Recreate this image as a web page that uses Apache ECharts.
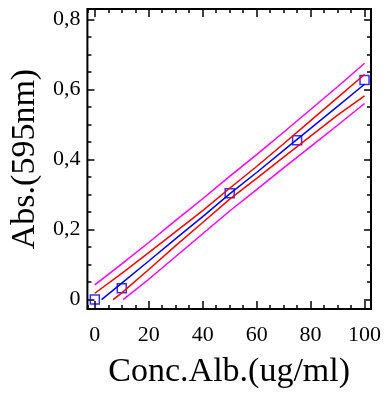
<!DOCTYPE html>
<html>
<head>
<meta charset="utf-8">
<script src="https://cdn.jsdelivr.net/npm/echarts@6/dist/echarts.min.js"></script>
<style>html,body{margin:0;padding:0;background:#fff}#c{width:389px;height:394px}</style>
</head>
<body>
<div id="c"></div>
<script>
// Measured points
const pointX = [0, 10, 50, 75, 100];
const pointY = [0.0, 0.032, 0.304, 0.455, 0.627];
// Linear fit (blue)
const fitX = [2.5, 10, 20, 30, 40, 50, 60, 70, 80, 90, 100];
const fitY = [0.0, 0.047, 0.110, 0.174, 0.237, 0.302, 0.363, 0.426, 0.489, 0.552, 0.615];
// Confidence band (red)
const confUpX = [0, 10, 20, 30, 40, 50, 60, 70, 80, 90, 100];
const confUpY = [0.018, 0.075, 0.134, 0.194, 0.254, 0.318, 0.380, 0.445, 0.511, 0.577, 0.643];
const confLoX = [6.8, 10, 20, 30, 40, 50, 60, 70, 80, 90, 100];
const confLoY = [0.0, 0.019, 0.086, 0.154, 0.220, 0.287, 0.346, 0.407, 0.467, 0.527, 0.582];
// Prediction band (magenta)
const predUpX = [0, 10, 20, 30, 40, 50, 60, 70, 80, 90, 100];
const predUpY = [0.042, 0.102, 0.163, 0.226, 0.288, 0.352, 0.414, 0.478, 0.543, 0.608, 0.675];
const predLoX = [10.5, 20, 30, 40, 50, 60, 70, 80, 90, 100];
const predLoY = [0.0, 0.058, 0.123, 0.188, 0.253, 0.314, 0.376, 0.437, 0.498, 0.560];
// Ticks
const xMajor = [0, 20, 40, 60, 80, 100];
const xTickLabels = ['0', '20', '40', '60', '80', '100'];
const xMinor = [-2.5,5,10,15,25,30,35,45,50,55,65,70,75,85,90,95];
const yMajor = [0, 0.2, 0.4, 0.6, 0.8];
const yTickLabels = ['0', '0,2', '0,4', '0,6', '0,8'];
const yMinor = [0.05,0.1,0.15,0.25,0.3,0.35,0.45,0.5,0.55,0.65,0.7,0.75];
const xTitle = 'Conc.Alb.(ug/ml)';
const yTitle = 'Abs.(595nm)';

const X_MIN = -2.75, X_MAX = 102.4, Y_MIN = -0.027, Y_MAX = 0.83;
const FONT = "'Liberation Serif', 'Times New Roman', serif";

function zip(a, b) { return a.map((v, i) => [v, b[i]]); }
function labelFor(vals, labels) {
  return function (v) {
    for (let i = 0; i < vals.length; i++) if (Math.abs(vals[i] - v) < 1e-6) return labels[i];
    return '';
  };
}
function xAx(pos, major, withLabel) {
  return {
    type: 'value', position: pos, min: X_MIN, max: X_MAX,
    axisLine: { show: false, onZero: false },
    splitLine: { show: false },
    axisTick: { show: true, inside: true, length: major ? 8 : 4, customValues: major ? xMajor : xMinor,
      lineStyle: { color: '#000', width: 1.5 } },
    axisLabel: withLabel ? { show: true, customValues: xMajor, formatter: labelFor(xMajor, xTickLabels),
      margin: 15, fontSize: 22, fontFamily: FONT, color: '#000' } : { show: false },
    name: withLabel ? xTitle : '', nameLocation: 'middle', nameGap: 46,
    nameTextStyle: { fontSize: 34, fontFamily: FONT, color: '#000' }
  };
}
function yAx(pos, major, withLabel) {
  return {
    type: 'value', position: pos, min: Y_MIN, max: Y_MAX,
    axisLine: { show: false, onZero: false },
    splitLine: { show: false },
    axisTick: { show: true, inside: true, length: major ? 7 : 4, customValues: major ? yMajor : yMinor,
      lineStyle: { color: '#000', width: 1.5 } },
    axisLabel: withLabel ? { show: true, customValues: yMajor, formatter: labelFor(yMajor, yTickLabels),
      margin: 7, fontSize: 22, fontFamily: FONT, color: '#000' } : { show: false },
    name: withLabel ? yTitle : '', nameLocation: 'middle', nameGap: 34, nameRotate: 90,
    nameTextStyle: { fontSize: 34, fontFamily: FONT, color: '#000' }
  };
}
function lineSeries(xs, ys, color) {
  return { type: 'line', data: zip(xs, ys), symbol: 'none', silent: true, animation: false,
    lineStyle: { color: color, width: 1.5 }, xAxisIndex: 0, yAxisIndex: 0 };
}

const chart = echarts.init(document.getElementById('c'), null, { renderer: 'canvas' });
chart.setOption({
  animation: false,
  backgroundColor: '#fff',
  grid: { left: 87, right: 18, top: 9, bottom: 82, show: true, borderColor: '#000', borderWidth: 2, backgroundColor: 'transparent' },
  xAxis: [xAx('bottom', true, true), xAx('bottom', false, false), xAx('top', true, false), xAx('top', false, false)],
  yAxis: [yAx('left', true, true), yAx('left', false, false), yAx('right', true, false), yAx('right', false, false)],
  series: [
    lineSeries(predUpX, predUpY, '#ff00ff'),
    lineSeries(predLoX, predLoY, '#ff00ff'),
    lineSeries(confUpX, confUpY, '#ff0000'),
    lineSeries(confLoX, confLoY, '#ff0000'),
    lineSeries(fitX, fitY, '#0000ff'),
    { type: 'scatter', data: zip(pointX, pointY), symbol: 'rect', symbolSize: 9, animation: false,
      itemStyle: { color: 'rgba(0,0,0,0)', borderColor: '#0000ff', borderWidth: 1.5 }, xAxisIndex: 0, yAxisIndex: 0 }
  ]
});
</script>
</body>
</html>
